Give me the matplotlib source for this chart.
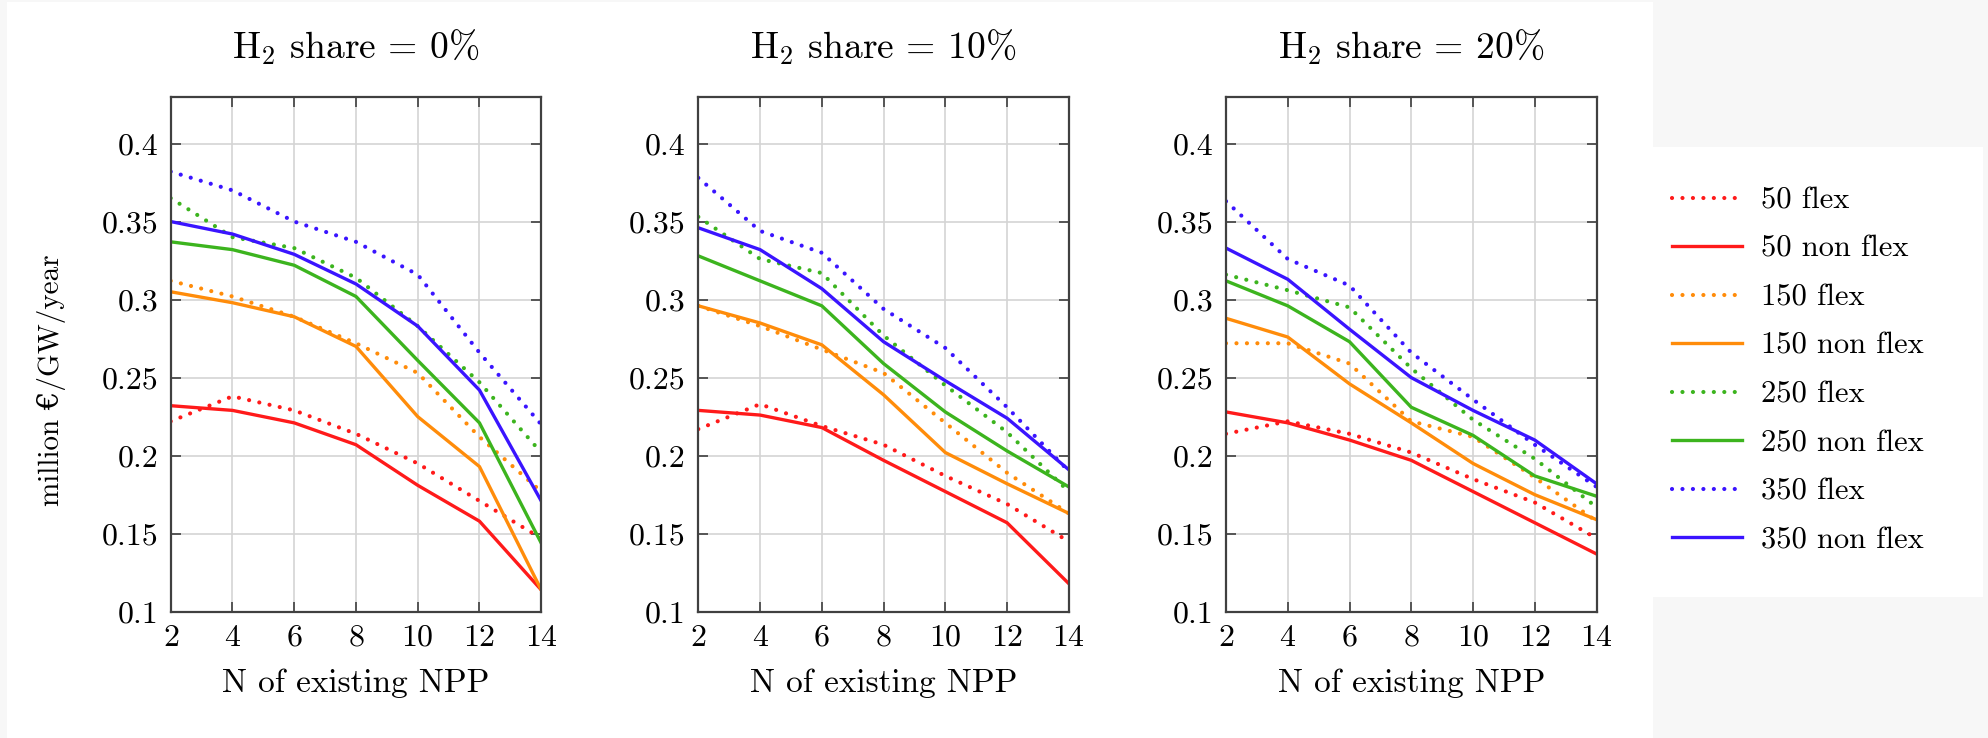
import numpy as np
import matplotlib
matplotlib.use('Agg')
import matplotlib.pyplot as plt
from matplotlib.patches import Rectangle

plt.rcParams['font.family'] = ['cmr10', 'DejaVu Serif']
plt.rcParams['mathtext.fontset'] = 'cm'
plt.rcParams['axes.formatter.use_mathtext'] = True

n_npp = [2, 4, 6, 8, 10, 12, 14]

labels = ['50 flex', '50 non flex', '150 flex', '150 non flex',
          '250 flex', '250 non flex', '350 flex', '350 non flex']
colors = ['#ff1a1a', '#ff1a1a', '#ff8c0a', '#ff8c0a',
          '#3cb41e', '#3cb41e', '#3a14ff', '#3a14ff']

titles = ['0%', '10%', '20%']

# rows follow the order of labels
h2_0 = [
    [0.222, 0.238, 0.229, 0.214, 0.195, 0.171, 0.147],
    [0.232, 0.229, 0.221, 0.207, 0.181, 0.158, 0.114],
    [0.312, 0.302, 0.289, 0.272, 0.253, 0.212, 0.177],
    [0.305, 0.298, 0.289, 0.270, 0.225, 0.193, 0.114],
    [0.365, 0.340, 0.333, 0.314, 0.283, 0.247, 0.202],
    [0.337, 0.332, 0.322, 0.302, 0.261, 0.221, 0.144],
    [0.382, 0.370, 0.350, 0.337, 0.316, 0.266, 0.220],
    [0.350, 0.342, 0.329, 0.310, 0.283, 0.242, 0.171],
]

h2_10 = [
    [0.217, 0.233, 0.219, 0.207, 0.187, 0.169, 0.145],
    [0.229, 0.226, 0.218, 0.197, 0.177, 0.157, 0.118],
    [0.296, 0.283, 0.268, 0.253, 0.221, 0.189, 0.163],
    [0.296, 0.285, 0.271, 0.239, 0.202, 0.182, 0.163],
    [0.353, 0.326, 0.317, 0.277, 0.245, 0.215, 0.177],
    [0.328, 0.312, 0.296, 0.259, 0.228, 0.203, 0.180],
    [0.378, 0.344, 0.330, 0.294, 0.269, 0.231, 0.190],
    [0.346, 0.332, 0.307, 0.273, 0.248, 0.224, 0.191],
]

h2_20 = [
    [0.214, 0.222, 0.214, 0.202, 0.185, 0.170, 0.147],
    [0.228, 0.221, 0.210, 0.197, 0.177, 0.157, 0.137],
    [0.272, 0.272, 0.259, 0.222, 0.212, 0.186, 0.158],
    [0.288, 0.276, 0.246, 0.221, 0.195, 0.175, 0.159],
    [0.316, 0.306, 0.295, 0.256, 0.223, 0.198, 0.167],
    [0.312, 0.296, 0.273, 0.231, 0.213, 0.187, 0.174],
    [0.363, 0.326, 0.309, 0.266, 0.236, 0.207, 0.180],
    [0.333, 0.313, 0.281, 0.250, 0.229, 0.210, 0.182],
]

W, H = 1988, 738
fig = plt.figure(figsize=(W / 100, H / 100), dpi=100)
fig.patch.set_facecolor('#f7f7f7')

# white page areas
fig.patches.append(Rectangle((7 / W, 0), (1653 - 7) / W, (H - 2) / H,
                             transform=fig.transFigure, facecolor='white',
                             edgecolor='none', zorder=-10))
fig.patches.append(Rectangle((1653 / W, (H - 597) / H), (1983 - 1653) / W, 450 / H,
                             transform=fig.transFigure, facecolor='white',
                             edgecolor='none', zorder=-10))

lefts = [170.7, 698.3, 1226]
ax_w = 370.5
ax_top, ax_bot = 96.7, 611.7

for k, data in enumerate([h2_0, h2_10, h2_20]):
    ax = fig.add_axes([lefts[k] / W, (H - ax_bot) / H, ax_w / W, (ax_bot - ax_top) / H])
    for i, y in enumerate(data):
        if 'non' in labels[i]:
            ax.plot(n_npp, y, color=colors[i], lw=2.4, label=labels[i],
                    solid_joinstyle='round')
        else:
            ax.plot(n_npp, y, color=colors[i], lw=3.0, label=labels[i],
                    linestyle=(0, (0.01, 2.5)), dash_capstyle='round')
    ax.set_xlim(2, 14)
    ax.set_ylim(0.1, 0.43)
    ax.set_xticks(n_npp)
    ax.set_yticks([0.1, 0.15, 0.2, 0.25, 0.3, 0.35, 0.4])
    ax.set_yticklabels(['0.1', '0.15', '0.2', '0.25', '0.3', '0.35', '0.4'])
    ax.grid(True, color='#d4d4d4', lw=1.2)
    ax.set_axisbelow(True)
    for s in ax.spines.values():
        s.set_color('#404040')
        s.set_linewidth(1.6)
    ax.tick_params(direction='in', top=True, right=True, length=7, width=1.4,
                   color='#555555', labelsize=23, pad=9)
    ax.text(0.5, 1 + (ax_top - 58.3) / (ax_bot - ax_top),
            r'H$_2$ share = ' + titles[k], transform=ax.transAxes,
            ha='center', va='baseline', fontsize=27)
    ax.text(0.5, -(692 - ax_bot) / (ax_bot - ax_top), 'N of existing NPP',
            transform=ax.transAxes, ha='center', va='baseline', fontsize=24)
    if k == 0:
        handles, labs = ax.get_legend_handles_labels()

fig.text(52 / W, 1 - 380 / H, 'million €/GW/year', rotation=90,
         ha='center', va='center', fontsize=21)

fig.legend(handles, labs, loc='upper left', bbox_to_anchor=(1672 / W, 1 - 187 / H),
           frameon=False, fontsize=22, handlelength=2.3, handletextpad=0.6,
           labelspacing=0.69, borderpad=0, borderaxespad=0)

fig.savefig('out.png', dpi=100, facecolor=fig.get_facecolor())
